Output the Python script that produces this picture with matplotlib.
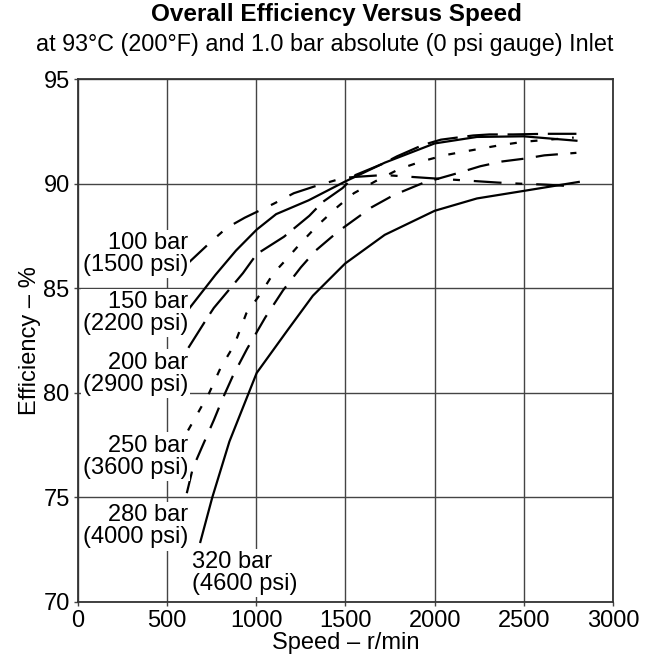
import matplotlib
matplotlib.use("Agg")
import matplotlib.pyplot as plt

plt.rcParams["font.family"] = ["Liberation Sans", "DejaVu Sans"]
plt.rcParams["lines.scale_dashes"] = False

# speed (r/min) and overall efficiency (%)
speed_100 = [609, 734, 833, 935, 1098, 1210, 1328, 1483, 1554, 1717, 1957, 2190, 2353, 2467, 2620, 2795]
eff_100 = [86.13, 87.13, 87.88, 88.37, 89.04, 89.54, 89.87, 90.26, 90.32, 90.41, 90.27, 90.14, 90.05, 90.0, 89.95, 89.86]

speed_150 = [619, 771, 886, 1002, 1111, 1293, 1498, 1720, 2000, 2237, 2499, 2795]
eff_150 = [83.98, 85.64, 86.8, 87.8, 88.54, 89.2, 90.1, 91.0, 91.92, 92.23, 92.26, 92.05]

speed_200 = [619, 724, 762, 925, 1002, 1155, 1297, 1372, 1484, 1556, 1707, 1788, 1935, 2035, 2216, 2308, 2440, 2620, 2795]
eff_200 = [82.15, 83.57, 84.06, 85.72, 86.63, 87.46, 88.46, 89.12, 89.79, 90.41, 90.94, 91.3, 91.85, 92.1, 92.3, 92.35, 92.35, 92.38, 92.38]

speed_250 = [617, 670, 736, 800, 877, 944, 1021, 1095, 1160, 1243, 1343, 1457, 1547, 1665, 1802, 1927, 2057, 2211, 2363, 2500, 2780]
eff_250 = [78.2, 79.0, 80.0, 81.2, 82.3, 83.8, 84.7, 85.7, 86.3, 87.1, 88.0, 88.9, 89.54, 90.1, 90.7, 91.06, 91.36, 91.6, 91.83, 92.0, 92.2]

speed_280 = [610, 644, 695, 762, 810, 868, 948, 1050, 1150, 1250, 1333, 1457, 1538, 1647, 1770, 1935, 2125, 2256, 2380, 2510, 2615, 2795]
eff_280 = [75.2, 76.4, 77.4, 78.7, 79.7, 80.8, 82.1, 83.6, 84.9, 86.0, 86.8, 87.7, 88.2, 88.87, 89.45, 90.03, 90.49, 90.83, 91.06, 91.2, 91.35, 91.47]

speed_320 = [686, 753, 849, 1002, 1174, 1317, 1498, 1720, 2000, 2237, 2499, 2808]
eff_320 = [72.87, 75.0, 77.67, 80.95, 82.98, 84.64, 86.18, 87.55, 88.7, 89.29, 89.65, 90.08]

bar_labels = ["100 bar", "150 bar", "200 bar", "250 bar", "280 bar", "320 bar"]
psi_labels = ["(1500 psi)", "(2200 psi)", "(2900 psi)", "(3600 psi)", "(4000 psi)", "(4600 psi)"]

fig = plt.figure(figsize=(6.49, 6.60), dpi=100)
ax = fig.add_axes([0.1202, 0.0879, 0.8243, 0.7924])

curves = [
    (speed_100, eff_100, (20, 10, 5, 10)),
    (speed_150, eff_150, None),
    (speed_200, eff_200, (22, 7)),
    (speed_250, eff_250, (5, 10)),
    (speed_280, eff_280, (16, 9)),
    (speed_320, eff_320, None),
]
for xs, ys, dash in curves:
    line, = ax.plot(xs, ys, color="black", lw=1.6, zorder=4)
    if dash is not None:
        line.set_dashes(dash)

# pressure labels, white boxes hide the grid behind them
label_pos = [(617, 86.63), (617, 83.81), (617, 80.92), (617, 76.95), (617, 73.61), (640, 71.39)]
for i, (lx, ly) in enumerate(label_pos):
    ha = "left" if i == 5 else "right"
    ax.text(lx, ly, bar_labels[i] + "\n" + psi_labels[i], ha=ha, va="center",
            multialignment=ha, fontsize=17, linespacing=1.0, zorder=5,
            bbox=dict(facecolor="white", edgecolor="none", pad=1.5))

ax.set_xlim(0, 3000)
ax.set_ylim(70, 95)
ax.set_xticks(range(0, 3001, 500))
ax.set_yticks(range(70, 96, 5))
ax.grid(True, color="#444444", lw=1.0)
ax.set_axisbelow(True)
ax.tick_params(labelsize=17, length=3, width=1, color="#444444", pad=3)
for s in ax.spines.values():
    s.set_color("#333333")
    s.set_linewidth(1.3)

ax.set_xlabel("Speed – r/min", fontsize=17, labelpad=0)
ax.set_ylabel("Efficiency – %", fontsize=17, labelpad=2)

fig.text(0.519, 1 - 14 / 660, "Overall Efficiency Versus Speed", ha="center", va="center",
         fontsize=17.5, fontweight="bold")
fig.text(0.5, 1 - 45 / 660, "at 93°C (200°F) and 1.0 bar absolute (0 psi gauge) Inlet",
         ha="center", va="center", fontsize=16.8)

fig.savefig("out.png", dpi=100)
